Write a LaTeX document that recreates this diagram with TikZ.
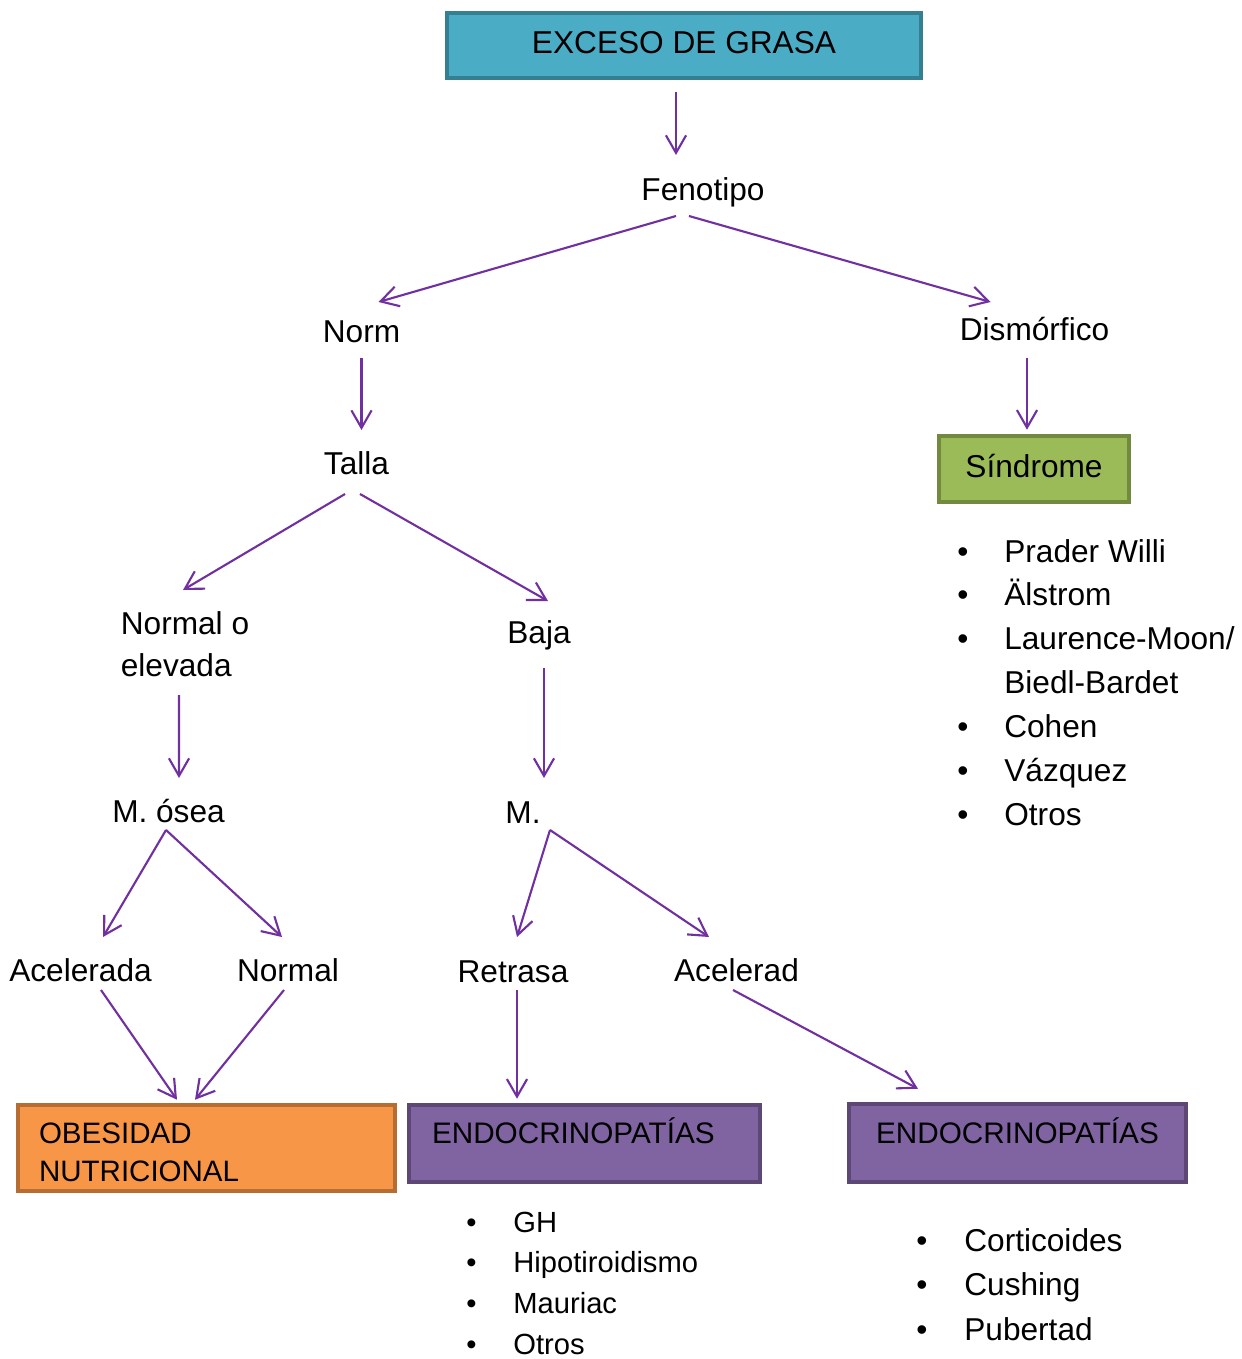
\documentclass[tikz,border=0pt]{standalone}
\usepackage{fontspec}
\setmainfont{Liberation Sans}
\usetikzlibrary{arrows.meta,calc}
\definecolor{morado}{HTML}{7030A0}
\definecolor{azulfondo}{HTML}{4BACC6}
\definecolor{azulborde}{HTML}{367F91}
\definecolor{verdefondo}{HTML}{9BBB59}
\definecolor{verdeborde}{HTML}{728A40}
\definecolor{naranjafondo}{HTML}{F79646}
\definecolor{naranjaborde}{HTML}{B66D31}
\definecolor{lilafondo}{HTML}{8064A2}
\definecolor{lilaborde}{HTML}{5D4775}

\begin{document}
\begin{tikzpicture}[x=0.02cm,y=-0.02cm,
    texto/.style={inner sep=0pt,font=\fontsize{18}{22}\selectfont},
    caja/.style={draw,line width=2.6pt,inner sep=0pt},
    flecha/.style={-{Straight Barb[length=10pt,width=11.5pt]},line width=1.2pt,morado},
    lista/.style={inner sep=0pt,anchor=base west}]
    \useasboundingbox[fill=white] (0,0) rectangle (1241,1359);

    % Cajas
    \node[caja,fill=azulfondo,draw=azulborde,minimum width=9.48cm,text height=0.82cm,text depth=0.48cm,font=\fontsize{18}{21}\selectfont] (exceso) at (684,45.5) {EXCESO DE GRASA};
    \node[caja,fill=verdefondo,draw=verdeborde,minimum width=3.8cm,text height=0.82cm,text depth=0.5cm,font=\fontsize{18}{22}\selectfont] (sindrome) at (1034,469) {Síndrome};
    \node[caja,fill=naranjafondo,draw=naranjaborde,inner xsep=0.42cm,text width=6.7cm,align=left,text height=0.77cm,text depth=0.95cm,font=\fontsize{16.8}{21.6}\selectfont] (obesidad) at (206.5,1148) {OBESIDAD\\NUTRICIONAL};
    \node[caja,fill=lilafondo,draw=lilaborde,inner xsep=0.46cm,text width=6.1cm,align=left,text height=0.77cm,text depth=0.77cm,font=\fontsize{16.9}{21.6}\selectfont] (endoA) at (584.5,1143.5) {ENDOCRINOPATÍAS};
    \node[caja,fill=lilafondo,draw=lilaborde,minimum width=6.74cm,text height=0.79cm,text depth=0.77cm,font=\fontsize{16.9}{21.6}\selectfont] (endoB) at (1017.5,1143) {ENDOCRINOPATÍAS};

    % Textos
    \node[texto] (fenotipo) at (703,192) {Fenotipo};
    \node[texto] (norm) at (361.5,332) {Norm};
    \node[texto] (dismorfico) at (1034.5,329) {Dismórfico};
    \node[texto] (talla) at (356.5,463) {Talla};
    \node[texto,align=left,font=\fontsize{18}{23.9}\selectfont] (nelevada) at (185,644) {Normal o\\elevada};
    \node[texto] (baja) at (539,635) {Baja};
    \node[texto] (mosea) at (168.5,811) {M. ósea};
    \node[texto] (mbaja) at (523,813) {M.};
    \node[texto] (acelerada) at (80.5,970) {Acelerada};
    \node[texto] (normal) at (288,970) {Normal};
    \node[texto] (retrasa) at (513,972) {Retrasa};
    \node[texto] (acelerad) at (736.5,970) {Acelerad};

    % Listas
    \node[lista,font=\fontsize{18}{25}\selectfont] (listaSind) at (957,562) {\begin{tabular}[t]{@{}p{0.94cm}@{}l@{}}
        \textbullet & Prader Willi\\
        \textbullet & Älstrom\\
        \textbullet & Laurence-Moon/\\
                    & Biedl-Bardet\\
        \textbullet & Cohen\\
        \textbullet & Vázquez\\
        \textbullet & Otros
    \end{tabular}};
    \node[lista,font=\fontsize{16.6}{23.3}\selectfont] (listaEndoA) at (466,1232) {\begin{tabular}[t]{@{}p{0.94cm}@{}l@{}}
        \textbullet & GH\\
        \textbullet & Hipotiroidismo\\
        \textbullet & Mauriac\\
        \textbullet & Otros
    \end{tabular}};
    \node[lista,font=\fontsize{18}{25.6}\selectfont] (listaEndoB) at (916,1251) {\begin{tabular}[t]{@{}p{0.96cm}@{}l@{}}
        \textbullet & Corticoides\\
        \textbullet & Cushing\\
        \textbullet & Pubertad
    \end{tabular}};

    % Flechas
    \draw[flecha] ($(exceso)+(-8,46.5)$) -- ($(fenotipo)+(-27,-37)$);
    \draw[flecha] ($(fenotipo)+(-27,24)$) -- ($(norm)+(17,-30)$);
    \draw[flecha] ($(fenotipo)+(-14,24)$) -- ($(dismorfico)+(-44,-27)$);
    \draw[flecha] ($(norm)+(0,26)$) -- ($(talla)+(5,-33)$);
    \draw[flecha] ($(dismorfico)+(-7.5,29)$) -- ($(sindrome.north)+(-7,-4)$);
    \draw[flecha] ($(talla)+(-11.5,31)$) -- ($(nelevada)+(-2,-54)$);
    \draw[flecha] ($(talla)+(3.5,31)$) -- ($(baja)+(9,-34)$);
    \draw[flecha] ($(nelevada)+(-6,51)$) -- ($(mosea)+(10.5,-33)$);
    \draw[flecha] ($(baja)+(5,33)$) -- ($(mbaja)+(21,-35)$);
    \draw[flecha] ($(mosea)+(-2.5,19)$) -- ($(acelerada)+(22.5,-33)$);
    \draw[flecha] ($(mosea)+(-2.5,19)$) -- ($(normal)+(-6,-33)$);
    \draw[flecha] ($(mbaja)+(27,17)$) -- ($(retrasa)+(4,-35)$);
    \draw[flecha] ($(mbaja)+(27,17)$) -- ($(acelerad)+(-27.5,-33)$);
    \draw[flecha] ($(acelerada)+(20.5,20)$) -- ($(obesidad.north)+(-29.5,-3)$);
    \draw[flecha] ($(normal)+(-4,20)$) -- ($(obesidad.north)+(-11.5,-3)$);
    \draw[flecha] ($(retrasa)+(4,18)$) -- ($(endoA.north)+(-67.5,-4)$);
    \draw[flecha] ($(acelerad)+(-3.5,20)$) -- ($(endoB.north)+(-99.5,-13)$);
\end{tikzpicture}
\end{document}
